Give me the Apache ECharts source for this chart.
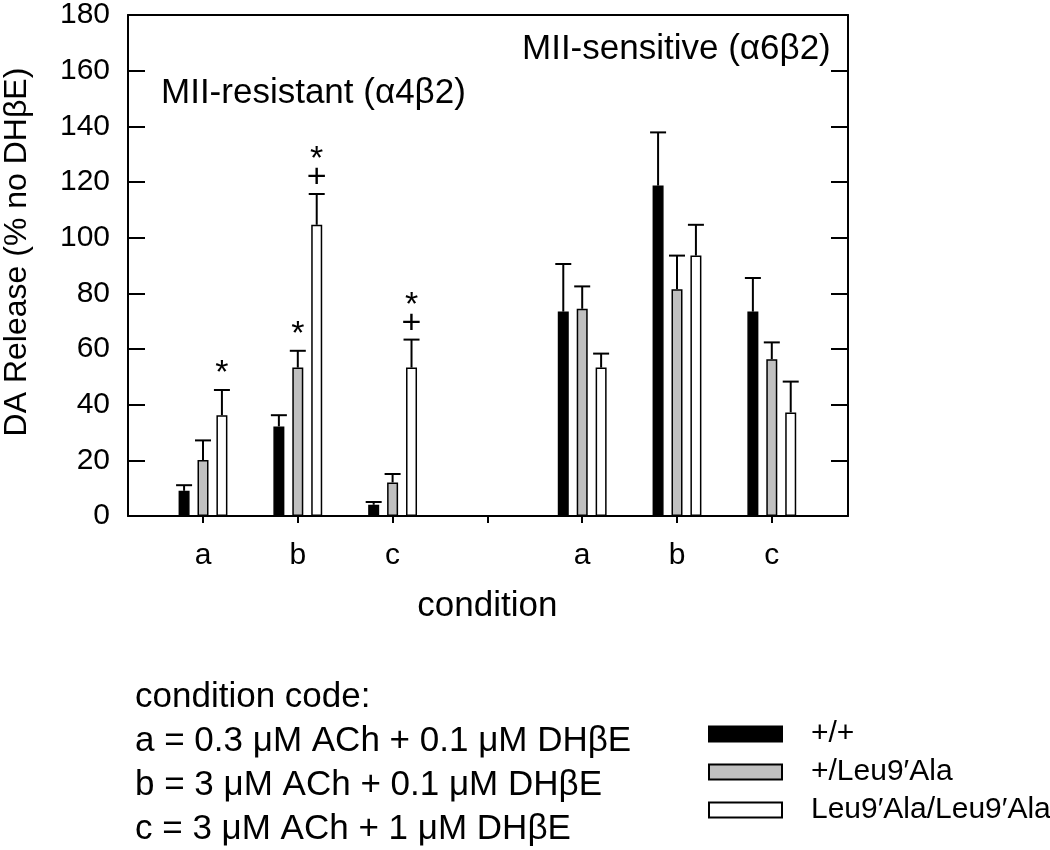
<!DOCTYPE html>
<html>
<head>
<meta charset="utf-8">
<script src="https://cdn.jsdelivr.net/npm/echarts@6/dist/echarts.min.js"></script>
<style>
html,body{margin:0;padding:0;background:#fff;}
#chart{width:1050px;height:850px;}
</style>
</head>
<body>
<div id="chart"></div>
<script>
// ---------------- data ----------------
const categories = ['a', 'b', 'c', '', 'a', 'b', 'c'];
const seriesNames = ['+/+', '+/Leu9\u2032Ala', 'Leu9\u2032Ala/Leu9\u2032Ala'];
const wtValues  = [9, 32, 4, null, 73, 118, 73];
const wtSem     = [2, 4, 1, null, 17, 19, 12];
const hetValues = [20, 53, 12, null, 74, 81, 56];
const hetSem    = [7, 6, 3, null, 8, 12, 6];
const homValues = [36, 104, 53, null, 53, 93, 37];
const homSem    = [9, 11, 10, null, 5, 11, 11];
const wtMarks   = ['', '', '', '', '', '', ''];
const hetMarks  = ['', '*', '', '', '', '', ''];
const homMarks  = ['*', '*+', '*+', '', '', '', ''];
const yMin = 0, yMax = 180, yStep = 20;
const groupTitles = ['MII-resistant (\u03b14\u03b22)', 'MII-sensitive (\u03b16\u03b22)'];
const yTitle = 'DA Release (% no DH\u03b2E)';
const xTitle = 'condition';
const codeLines = [
  'condition code:',
  'a = 0.3 \u03bcM ACh + 0.1 \u03bcM DH\u03b2E',
  'b = 3 \u03bcM ACh + 0.1 \u03bcM DH\u03b2E',
  'c = 3 \u03bcM ACh + 1 \u03bcM DH\u03b2E'
];

// ---------------- style ----------------
const FONT = '"Liberation Sans", Arial, sans-serif';
const fills = ['#000000', '#c0c0c0', '#ffffff'];
const BAR_W = 11, BAR_GAP = 0.72;
const STEP = BAR_W * (1 + BAR_GAP);

const values = [wtValues, hetValues, homValues];
const sems = [wtSem, hetSem, homSem];
const marks = [wtMarks, hetMarks, homMarks];

const frame = {left: 128, top: 12, width: 720, height: 504};
const slot = 94.8;
const catGrid = {left: 203 - slot / 2, top: 12, width: slot * 7, height: 504};

const chart = echarts.init(document.getElementById('chart'), null, {renderer: 'canvas'});

const barSeries = values.map((vals, k) => ({
  name: seriesNames[k],
  type: 'bar',
  xAxisIndex: 2, yAxisIndex: 2,
  barWidth: BAR_W,
  barGap: (BAR_GAP * 100) + '%',
  data: vals,
  itemStyle: {color: fills[k], borderColor: '#000', borderWidth: 1.5},
  z: 2
}));

const errSeries = values.map((vals, k) => ({
  type: 'custom',
  xAxisIndex: 2, yAxisIndex: 2,
  z: 3,
  silent: true,
  data: vals.map((v, i) => v == null ? null : [i, v, v + sems[k][i]]).filter(d => d),
  encode: {x: 0, y: [1, 2]},
  renderItem: function (params, api) {
    const idx = api.value(0);
    const pBar = api.coord([idx, api.value(1)]);
    const pTop = api.coord([idx, api.value(2)]);
    const x = pBar[0] + (k - 1) * STEP;
    const children = [
      {type: 'line', shape: {x1: x, y1: pBar[1], x2: x, y2: pTop[1]}, style: {stroke: '#000', lineWidth: 2}},
      {type: 'line', shape: {x1: x - 8, y1: pTop[1], x2: x + 8, y2: pTop[1]}, style: {stroke: '#000', lineWidth: 2}}
    ];
    const m = marks[k][idx] || '';
    const chars = m.split('').reverse();
    chars.forEach((ch, j) => {
      children.push({
        type: 'text',
        style: {
          text: ch, x: x, y: pTop[1] - 16 - 18 * j,
          align: 'center', verticalAlign: 'middle',
          font: '34px ' + FONT, fill: '#000'
        }
      });
    });
    return {type: 'group', children: children};
  }
}));

const graphics = [
  {type: 'text', x: 161, y: 93, style: {text: groupTitles[0], font: '35px ' + FONT, fill: '#000', align: 'left', verticalAlign: 'middle'}},
  {type: 'text', x: 522, y: 49, style: {text: groupTitles[1], font: '35px ' + FONT, fill: '#000', align: 'left', verticalAlign: 'middle'}},
  {type: 'text', x: 17, y: 252, rotation: Math.PI / 2, style: {text: yTitle, font: '32px ' + FONT, fill: '#000', align: 'center', verticalAlign: 'middle'}}
];
codeLines.forEach((t, i) => {
  graphics.push({type: 'text', x: 135, y: 697 + 44 * i, style: {text: t, font: '35px ' + FONT, fill: '#000', align: 'left', verticalAlign: 'middle'}});
});

const axisLineStyle = {show: true, onZero: false, lineStyle: {color: '#000', width: 2}};

const option = {
  animation: false,
  backgroundColor: '#fff',
  textStyle: {fontFamily: FONT},
  grid: [
    {left: frame.left, top: frame.top, width: frame.width, height: frame.height},
    {left: catGrid.left, top: catGrid.top, width: catGrid.width, height: catGrid.height}
  ],
  legend: {
    orient: 'vertical',
    left: 703, top: 714,
    itemWidth: 73, itemHeight: 15, itemGap: 8,
    icon: 'rect',
    data: seriesNames,
    selectedMode: false,
    textStyle: {fontSize: 30, color: '#000', fontFamily: FONT, padding: [0, 0, 0, 24]}
  },
  xAxis: [
    {gridIndex: 0, type: 'value', min: 0, max: 1, position: 'bottom',
      axisLine: axisLineStyle, axisTick: {show: false}, axisLabel: {show: false}, splitLine: {show: false}},
    {gridIndex: 0, type: 'value', min: 0, max: 1, position: 'top',
      axisLine: axisLineStyle, axisTick: {show: false}, axisLabel: {show: false}, splitLine: {show: false}},
    {gridIndex: 1, type: 'category', data: categories, position: 'bottom',
      name: xTitle, nameLocation: 'middle', nameGap: 73,
      nameTextStyle: {fontSize: 35, color: '#000', fontFamily: FONT},
      axisLine: {show: false, onZero: false},
      axisTick: {show: true, alignWithLabel: true, length: 7, lineStyle: {color: '#000', width: 2}},
      axisLabel: {fontSize: 30, color: '#000', margin: 25, fontFamily: FONT},
      splitLine: {show: false}}
  ],
  yAxis: [
    {gridIndex: 0, type: 'value', min: yMin, max: yMax, interval: yStep, position: 'left',
      axisLine: axisLineStyle,
      axisTick: {show: true, inside: true, length: 17, lineStyle: {color: '#000', width: 2}},
      axisLabel: {fontSize: 30, color: '#000', margin: 18, fontFamily: FONT},
      splitLine: {show: false}},
    {gridIndex: 0, type: 'value', min: yMin, max: yMax, interval: yStep, position: 'right',
      axisLine: axisLineStyle,
      axisTick: {show: true, inside: true, length: 17, lineStyle: {color: '#000', width: 2}},
      axisLabel: {show: false}, splitLine: {show: false}},
    {gridIndex: 1, type: 'value', min: yMin, max: yMax, interval: yStep, show: false, splitLine: {show: false}}
  ],
  series: barSeries.concat(errSeries),
  graphic: graphics
};
chart.setOption(option);
</script>
</body>
</html>
